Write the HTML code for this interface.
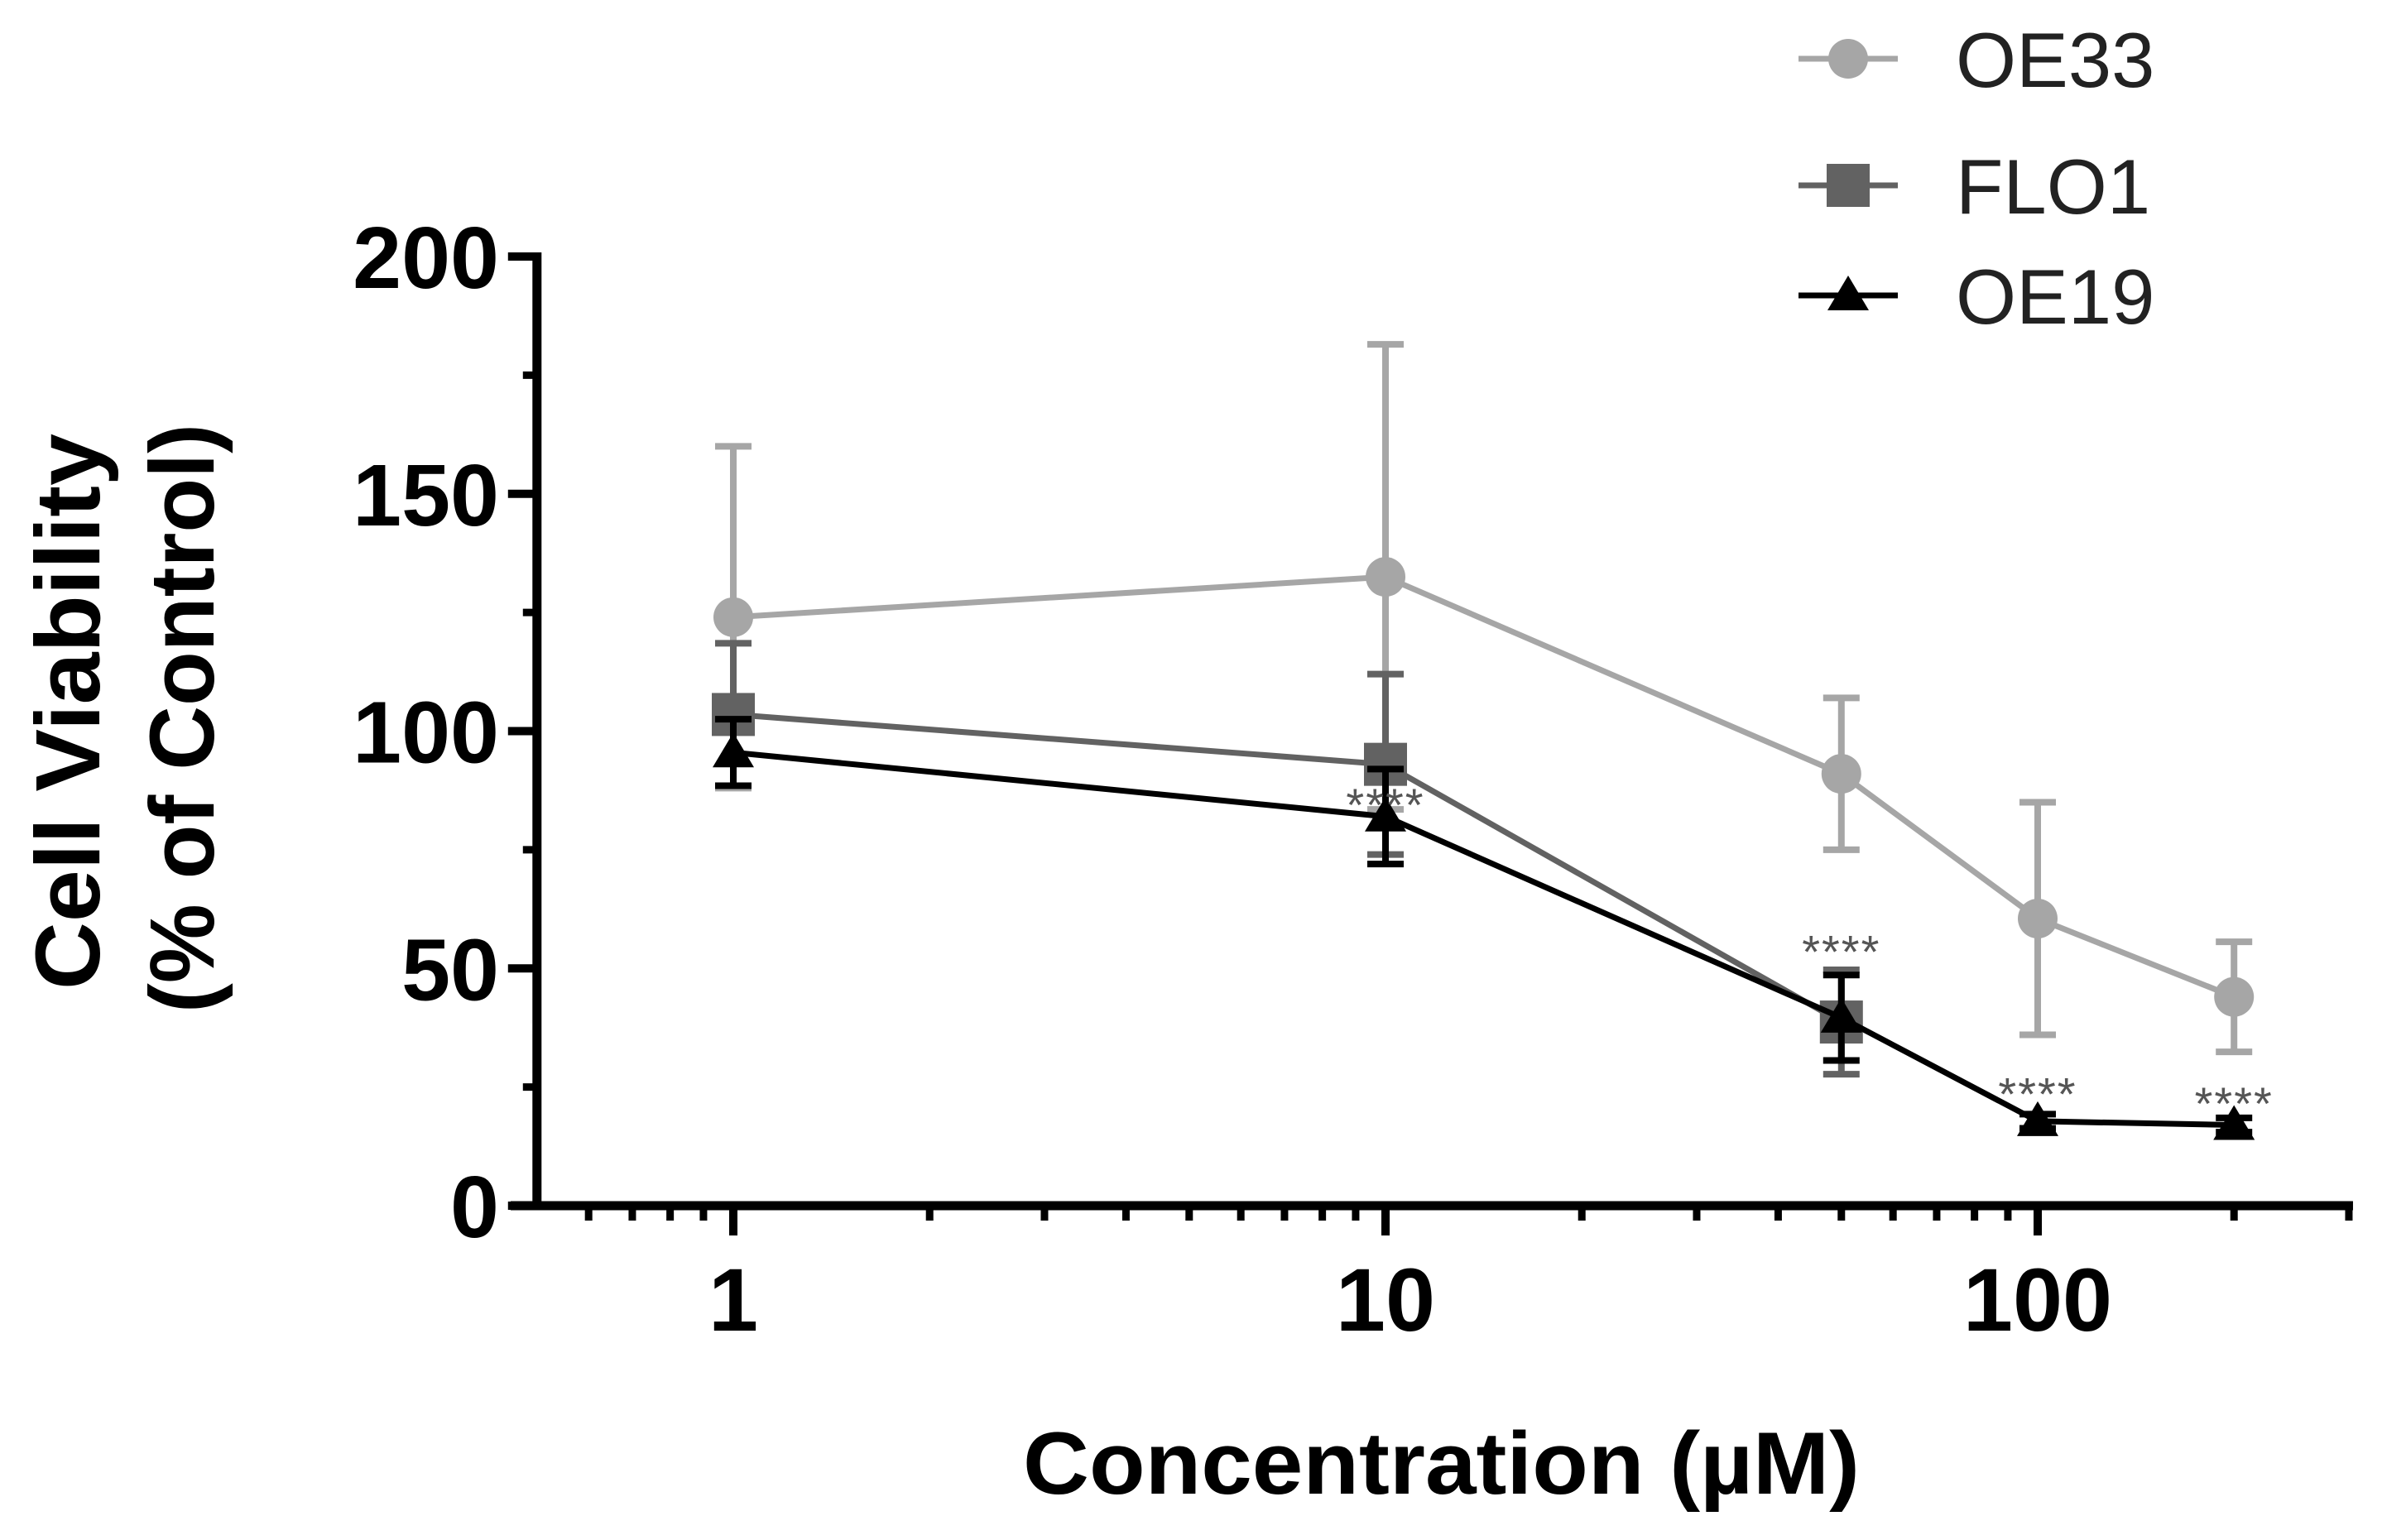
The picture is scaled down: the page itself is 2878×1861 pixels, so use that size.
<!DOCTYPE html>
<html><head><meta charset="utf-8"><style>html,body{margin:0;padding:0;background:#fff}svg{display:block}</style></head>
<body>
<svg id="chart" width="2878" height="1861" viewBox="0 0 2878 1861" xmlns="http://www.w3.org/2000/svg" font-family="Liberation Sans, Arial, sans-serif">
<rect width="2878" height="1861" fill="#fff"/>
<g id="axes"></g>
<g id="series"></g>
<g id="legend"></g>
</svg>
<script>
const concentrations = [1, 10, 50, 100, 200];
const oe33Mean = [124, 132.5, 91, 60.5, 44];
const oe33Err = [36, 49, 16, 24.5, 11.6];
const flo1Mean = [103.5, 93, 38.7, null, null];
const flo1Err = [15, 19, 11, null, null];
const oe19Mean = [95.5, 82, 39.6, 17.8, 17];
const oe19Err = [7, 10, 9, 1.5, 1.5];
const yTicks = [0, 50, 100, 150, 200];
const xTickLabels = ["1", "10", "100"];
const xTickValues = [1, 10, 100];
const starConcs = [10, 50, 100, 200];
const starValues = [86, 55, 25, 23];

const NS = "http://www.w3.org/2000/svg";
const X0 = 886, DEC = 788, Y0 = 1457, YPER = 5.735;
function xs(v){ return X0 + Math.log10(v) * DEC; }
function ys(v){ return Y0 - v * YPER; }
function mk(tag, attrs, parent){
  const e = document.createElementNS(NS, tag);
  for (const k in attrs) e.setAttribute(k, attrs[k]);
  parent.appendChild(e); return e;
}
const axes = document.getElementById('axes');
const series = document.getElementById('series');
const legend = document.getElementById('legend');
const AX = xs(0.5);

let l = mk('line', {x1: AX, y1: ys(200) - 5, x2: AX, y2: Y0 + 5, stroke: '#000', 'stroke-width': 11}, axes);


for (let v = 25; v < 200; v += 50) {
  const t = mk('line', {x1: AX - 17, y1: ys(v), x2: AX, y2: ys(v), stroke: '#000', 'stroke-width': 9}, axes);
  
  
}
yTicks.forEach(v => {
  const t = mk('line', {x1: AX - 35, y1: ys(v), x2: AX, y2: ys(v), stroke: '#000', 'stroke-width': 10}, axes);
  
  
  const tx = mk('text', {x: 603, y: ys(v) + 38, 'text-anchor': 'end', 'font-size': 106, 'font-weight': 'bold', fill: '#000'}, axes);
  tx.textContent = String(v);
  
  
});
l = mk('line', {x1: 617, y1: Y0, x2: xs(300) + 5, y2: Y0, stroke: '#000', 'stroke-width': 11}, axes);


const minors = [0.6,0.7,0.8,0.9,2,3,4,5,6,7,8,9,20,30,40,50,60,70,80,90,200,300];
minors.forEach(v => {
  const t = mk('line', {x1: xs(v), y1: Y0, x2: xs(v), y2: 1475, stroke: '#000', 'stroke-width': 9}, axes);
  
  
});
xTickValues.forEach((v, i) => {
  const t = mk('line', {x1: xs(v), y1: Y0, x2: xs(v), y2: 1493, stroke: '#000', 'stroke-width': 10}, axes);
  
  
  const tx = mk('text', {x: xs(v), y: 1608, 'text-anchor': 'middle', 'font-size': 108, 'font-weight': 'bold', fill: '#000'}, axes);
  tx.textContent = xTickLabels[i];
  
  
});
let tt = mk('text', {x: 1236, y: 1805, 'font-size': 107, 'font-weight': 'bold', fill: '#000', textLength: 1011, lengthAdjust: 'spacingAndGlyphs'}, axes);
tt.textContent = 'Concentration (\u00b5M)';


tt = mk('text', {x: 0, y: 0, 'font-size': 110, 'font-weight': 'bold', fill: '#000', 'text-anchor': 'middle', textLength: 672, lengthAdjust: 'spacingAndGlyphs', transform: 'translate(120,860) rotate(-90)'}, axes);
tt.textContent = 'Cell Viability';


tt = mk('text', {x: 0, y: 0, 'font-size': 110, 'font-weight': 'bold', fill: '#000', 'text-anchor': 'middle', textLength: 712, lengthAdjust: 'spacingAndGlyphs', transform: 'translate(258,868) rotate(-90)'}, axes);
tt.textContent = '(% of Control)';



function marker(shape, cx, cy, color, parent, name){
  let m;
  if (shape === 'circle') m = mk('circle', {cx: cx, cy: cy, r: 24, fill: color}, parent);
  else if (shape === 'square') m = mk('rect', {x: cx - 26, y: cy - 26, width: 52, height: 52, fill: color}, parent);
  else m = mk('polygon', {points: `${cx},${cy-24} ${cx+25},${cy+18} ${cx-25},${cy+18}`, fill: color}, parent);
  
  
  return m;
}
function drawSeries(name, means, errs, color, shape){
  const g = mk('g', {}, series);
  
  
  const pts = [];
  means.forEach((m, i) => {
    if (m === null) return;
    const x = xs(concentrations[i]);
    pts.push(x + ',' + ys(m));
    const e = mk('path', {d: `M${x},${ys(m-errs[i])}V${ys(m+errs[i])}M${x-22},${ys(m+errs[i])}h44M${x-22},${ys(m-errs[i])}h44`, stroke: color, 'stroke-width': 8, fill: 'none'}, g);
    
    
  });
  const pl = mk('polyline', {points: pts.join(' '), stroke: color, 'stroke-width': 7, fill: 'none'}, g);
  
  
  means.forEach((m, i) => { if (m !== null) marker(shape, xs(concentrations[i]), ys(m), color, g, name + '-point'); });
}
drawSeries('oe33', oe33Mean, oe33Err, '#a6a6a6', 'circle');
drawSeries('flo1', flo1Mean, flo1Err, '#626262', 'square');
drawSeries('oe19', oe19Mean, oe19Err, '#000000', 'triangle');

starConcs.forEach((c, i) => {
  const s = mk('text', {x: xs(c), y: ys(starValues[i]) + 28, 'text-anchor': 'middle', 'font-size': 56, fill: '#555', 'letter-spacing': 2}, series);
  s.textContent = '****';
  
  
});

const legItems = [['OE33', '#a6a6a6', 'circle', 71], ['FLO1', '#626262', 'square', 224], ['OE19', '#000000', 'triangle', 357]];
legItems.forEach(it => {
  const g = mk('g', {}, legend);
  
  
  const ln = mk('line', {x1: 2173, y1: it[3], x2: 2293, y2: it[3], stroke: it[1], 'stroke-width': 7}, g);
  
  
  marker(it[2], 2233, it[3], it[1], g, 'legend-marker');
  const tx = mk('text', {x: 2363, y: it[3] + 34, 'font-size': 94, fill: '#222'}, g);
  tx.textContent = it[0];
  
  
});
</script>
</body></html>
